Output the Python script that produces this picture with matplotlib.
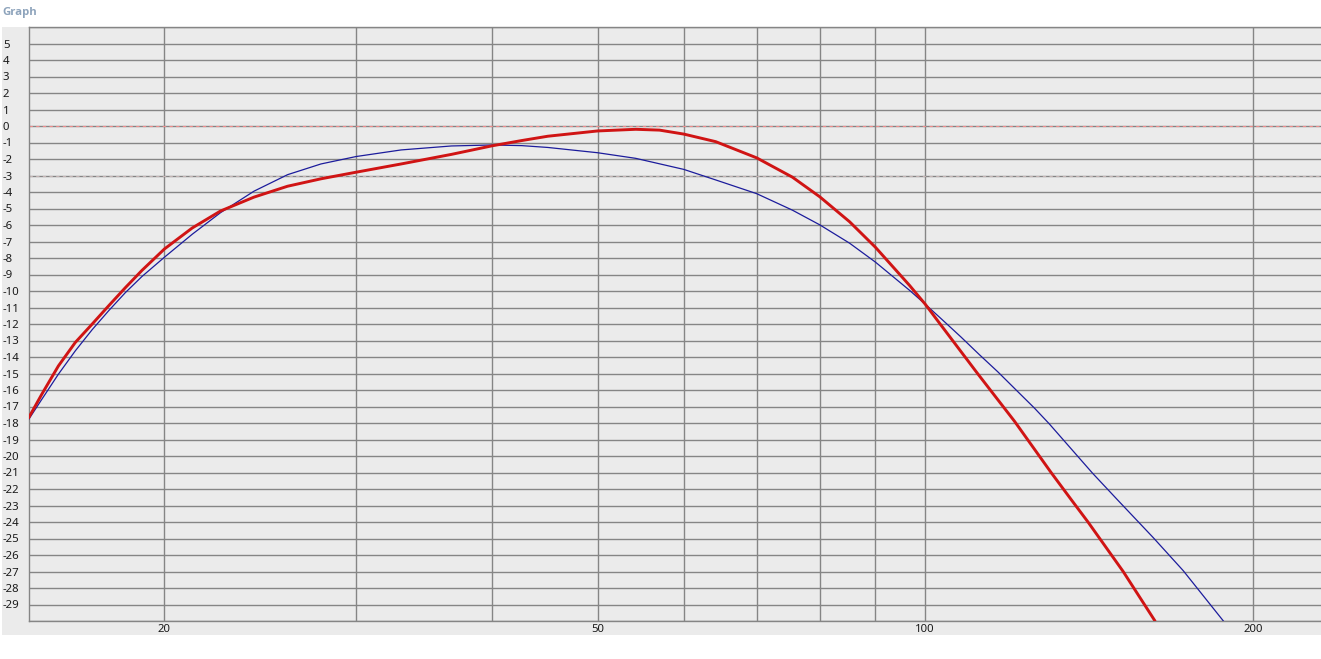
import matplotlib
matplotlib.use("Agg")
import matplotlib.pyplot as plt
from matplotlib.patches import Rectangle
from matplotlib.ticker import FixedLocator, NullFormatter

# ---- data ----
red_freq = [15.0, 15.43, 15.98, 16.56, 17.16, 17.77, 18.41, 19.07, 20.0, 21.21,
            22.52, 24.17, 25.95, 27.85, 30.0, 33.0, 36.7, 40.0, 42.6, 45.0,
            50.0, 54.2, 57.0, 60.0, 64.2, 70.0, 75.5, 80.0, 85.2, 90.0,
            96.7, 100.0, 103.2, 111.7, 120.8, 130.5, 136.2, 141.1, 152.0, 162.6]
red_db = [-17.7, -16.25, -14.54, -13.12, -12.01, -10.90, -9.80, -8.75, -7.45, -6.18,
          -5.15, -4.31, -3.65, -3.20, -2.80, -2.30, -1.72, -1.20, -0.88, -0.62,
          -0.30, -0.20, -0.25, -0.49, -0.95, -1.93, -3.10, -4.29, -5.80, -7.35,
          -9.65, -10.8, -12.0, -15.0, -17.9, -21.0, -22.65, -24.0, -27.0, -30.0]

blue_freq = [15.0, 15.43, 15.98, 16.56, 17.16, 17.77, 18.41, 19.07, 20.0, 21.21,
             22.52, 24.17, 25.95, 27.85, 30.0, 33.0, 36.7, 40.0, 42.6, 45.0,
             50.0, 54.2, 60.0, 64.2, 70.0, 75.5, 80.0, 85.2, 90.0, 96.7,
             100.0, 103.7, 107.9, 112.1, 116.6, 121.2, 126.0, 130.0, 142.5, 150.4,
             157.0, 162.0, 172.6, 187.9]
blue_db = [-17.8, -16.56, -15.04, -13.63, -12.35, -11.20, -10.10, -9.12, -7.95, -6.56,
           -5.25, -3.95, -2.95, -2.30, -1.85, -1.45, -1.21, -1.15, -1.19, -1.30,
           -1.62, -1.96, -2.63, -3.27, -4.10, -5.10, -5.99, -7.10, -8.25, -9.95,
           -10.8, -11.75, -12.8, -13.85, -14.9, -16.0, -17.1, -18.05, -21.05, -22.7,
           -24.0, -24.95, -26.95, -30.0]

x_major = [20, 50, 100, 200]
x_major_labels = ["20", "50", "100", "200"]
x_minor = [30, 40, 60, 70, 80, 90]
y_ticks = list(range(-30, 7))
y_labels = [str(v) if -29 <= v <= 5 else "" for v in y_ticks]
ref_lines = [0, -3]

W, H = 1321, 659
fig = plt.figure(figsize=(W / 100, H / 100), dpi=100)
fig.patch.set_facecolor("white")

# grey panel behind the plot
fig.patches.append(Rectangle((2 / W, 1 - 635 / H), 1 - 2 / W, (635 - 27) / H,
                             transform=fig.transFigure, facecolor="#ebebeb",
                             edgecolor="none", zorder=-5))

ax = fig.add_axes([28.5 / W, 1 - 621 / H, 1 - 28.5 / W, (621 - 27) / H])
ax.set_zorder(2)
ax.set_facecolor("#ebebeb")
ax.set_xscale("log")
ax.set_xlim(15, 231)
ax.set_ylim(-30, 6)

ax.xaxis.set_major_locator(FixedLocator(x_major))
ax.xaxis.set_minor_locator(FixedLocator(x_minor))
ax.set_xticks(x_major)
ax.set_xticklabels(x_major_labels)
ax.xaxis.set_minor_formatter(NullFormatter())
ax.set_yticks(y_ticks)
ax.set_yticklabels(y_labels)

grid_c = "#858585"
ax.grid(True, which="both", axis="x", color=grid_c, linewidth=1.0)
ax.grid(True, which="major", axis="y", color=grid_c, linewidth=1.0)
ax.set_axisbelow(True)

for s in ["left", "top", "bottom"]:
    ax.spines[s].set_color(grid_c)
    ax.spines[s].set_linewidth(1.0)
ax.spines["right"].set_visible(False)

ax.tick_params(axis="both", which="both", length=0)
ax.tick_params(axis="y", pad=18.5, labelsize=8.2, labelcolor="#1a1a1a")
ax.tick_params(axis="x", pad=2.0, labelsize=8.2, labelcolor="#1a1a1a")
for lab in ax.get_yticklabels():
    lab.set_horizontalalignment("left")
    lab.set_fontfamily(["Noto Sans", "DejaVu Sans"])
for lab in ax.get_xticklabels():
    lab.set_fontfamily(["Noto Sans", "DejaVu Sans"])

ax.axhline(ref_lines[0], color="#ee8c8c", linewidth=0.8, linestyle=(0, (3, 3)), zorder=1.5)
ax.axhline(ref_lines[1], color="#c4b4b4", linewidth=0.8, linestyle=(0, (3, 3)), zorder=1.5)

ax.plot(blue_freq, blue_db, color="#1c1c9c", linewidth=0.9, zorder=3)
ax.plot(red_freq, red_db, color="#d01414", linewidth=2.1, zorder=4,
        solid_capstyle="round", solid_joinstyle="round")

fig.text(2 / W, 1 - 12 / H, "Graph", color="#8ea4bc", fontsize=8.2,
         fontweight="bold", va="center", ha="left",
         family=["Open Sans", "DejaVu Sans"])

fig.savefig("out.png", dpi=100, facecolor="white")
